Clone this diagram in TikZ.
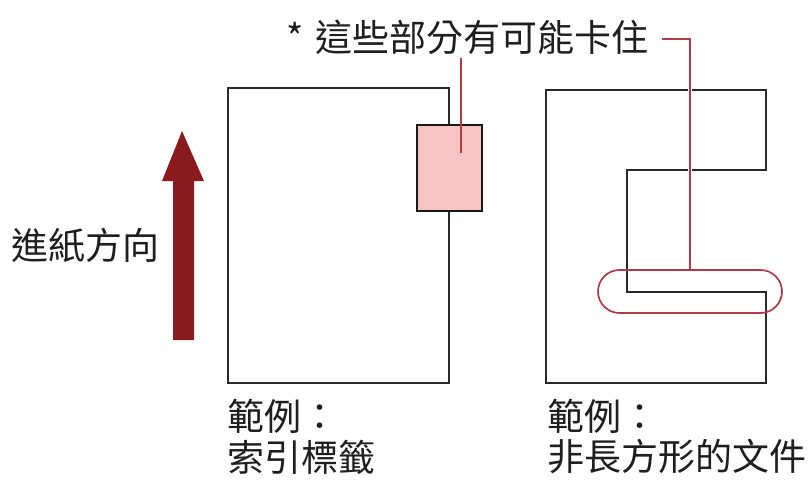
\documentclass[tikz,border=0pt]{standalone}
\usepackage{fontspec}
\setmainfont{Noto Sans CJK TC}
\usetikzlibrary{shapes.misc}
\definecolor{docline}{HTML}{2A2A2A}
\definecolor{arrowred}{HTML}{8A1A1E}
\definecolor{leadred}{HTML}{B23A48}
\definecolor{jampink}{HTML}{F7C4C4}
\begin{document}
\begin{tikzpicture}[x=1pt,y=-1pt,
  txt/.style={inner sep=0pt,anchor=west,font=\fontsize{37}{40}\selectfont,text=black!88},
  docedge/.style={draw=docline,line width=2.3pt},
  leader/.style={draw=leadred,line width=1.7pt},
  halo/.style={draw=white,line width=4pt}]
\useasboundingbox (0,0) rectangle (810,481);
% left document
\draw[docedge] (228,88) rectangle (449,383);
\node[draw=black!90,line width=2.3pt,fill=jampink,minimum width=65pt,minimum height=86pt,inner sep=0pt] (jam) at (449.5,168) {};
% right document
\draw[docedge] (546,90) -- (766,90) -- (766,170) -- (627,170) -- (627,292) -- (766,292) -- (766,383) -- (546,383) -- cycle;
\node[rounded rectangle,draw=leadred,line width=1.7pt,minimum width=184pt,minimum height=43pt,inner sep=0pt] (jamb) at (690,291.5) {};
% label and leaders
\node[txt] (note) at (286,37) {*\hspace{4pt} 這些部分有可能卡住};
\coordinate (la) at (461,58);
\coordinate (lb) at (461,153);
\coordinate (ra) at (662,39);
\coordinate (rb) at (690,39);
\draw[leader] (la) -- (lb);
\draw[halo] (rb) -- (jamb.north);
\draw[leader] (ra) -- (rb) -- (jamb.north);
% arrow
\coordinate (tip) at (182,131);
\fill[arrowred] (tip) -- (204,181) -- (194,181) -- (194,340) -- (173,340) -- (173,181) -- (162,181) -- cycle;
% texts
\node[txt] (dir) at (11,245) {進紙方向};
\node[txt] (e1) at (227,416) {範例：};
\node[txt] (e1b) at (227,457) {索引標籤};
\node[txt] (e2) at (547,416) {範例：};
\node[txt] (e2b) at (547,457) {非長方形的文件};
\end{tikzpicture}
\end{document}
